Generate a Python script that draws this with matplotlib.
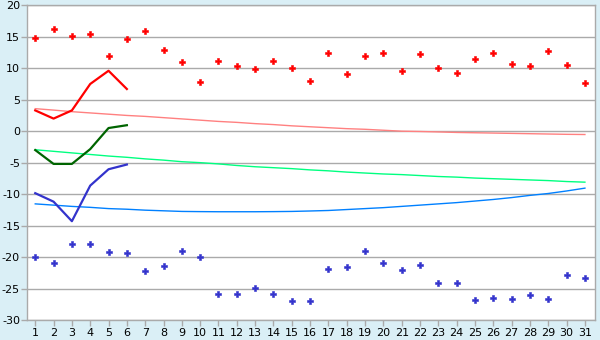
import matplotlib
matplotlib.use("Agg")
import matplotlib.pyplot as plt
import numpy as np

plt.rcParams["axes.unicode_minus"] = False

days = list(range(1, 32))

red_points = [14.85, 16.25, 15.05, 15.45, 12.0, 14.7, 15.95, 12.95, 10.95, 7.85,
              11.1, 10.3, 9.85, 11.1, 10.0, 7.95, 12.5, 9.05, 12.0, 12.35,
              9.5, 12.2, 10.0, 9.2, 11.4, 12.5, 10.6, 10.3, 12.8, 10.45, 7.65]
blue_points = [-20.0, -20.95, -17.95, -17.95, -19.2, -19.35, -22.2, -21.4, -19.05, -20.0,
               -25.9, -25.9, -24.95, -25.9, -27.0, -27.0, -21.9, -21.6, -19.05, -20.95,
               -22.05, -21.25, -24.1, -24.1, -26.8, -26.5, -26.7, -26.05, -26.7, -22.9, -23.3]

line_days = [1, 2, 3, 4, 5, 6]
red_line = [3.3, 2.0, 3.3, 7.5, 9.6, 6.7]
green_line = [-3.0, -5.2, -5.2, -2.85, 0.5, 0.95]
blue_line = [-9.85, -11.2, -14.3, -8.65, -6.05, -5.3]

pink_trend = [3.58, 3.35, 3.1, 2.9, 2.7, 2.5, 2.35, 2.15, 1.95, 1.75,
              1.55, 1.4, 1.2, 1.05, 0.85, 0.7, 0.55, 0.4, 0.3, 0.15,
              0.0, -0.05, -0.12, -0.2, -0.25, -0.3, -0.35, -0.4, -0.45, -0.5, -0.53]
green_trend = [-2.95, -3.2, -3.45, -3.7, -3.95, -4.15, -4.4, -4.6, -4.85, -5.0,
               -5.2, -5.45, -5.65, -5.8, -5.95, -6.15, -6.3, -6.5, -6.65, -6.8,
               -6.9, -7.05, -7.2, -7.3, -7.45, -7.55, -7.65, -7.75, -7.85, -8.0, -8.1]
blue_trend = [-11.55, -11.75, -11.95, -12.1, -12.3, -12.4, -12.55, -12.65, -12.75, -12.78,
              -12.8, -12.8, -12.8, -12.78, -12.75, -12.68, -12.6, -12.45, -12.3, -12.15,
              -11.95, -11.75, -11.55, -11.35, -11.1, -10.85, -10.55, -10.2, -9.9, -9.5, -9.05]

y_ticks = [-30, -25, -20, -15, -10, -5, 0, 5, 10, 15, 20]

bg = "#daeff6"
grid_c = "#aaaaaa"

fig = plt.figure(figsize=(6, 3.4), dpi=100, facecolor=bg)
ax = fig.add_axes([27/600, 1-320/340, (595-27)/600, (320-5.3)/340])
ax.set_facecolor("white")

ax.set_xlim(0.55, 31.55)
ax.set_ylim(-30, 20)
ax.set_yticks(y_ticks)
ax.set_xticks(days)
ax.yaxis.grid(True, color=grid_c, linewidth=1.0)
ax.set_axisbelow(True)

for s in ax.spines.values():
    s.set_color(grid_c)
    s.set_linewidth(1.0)

ax.tick_params(axis="both", colors=grid_c, labelcolor="black", labelsize=8, length=4, width=1, direction="out")
ax.tick_params(axis="y", pad=1)
ax.tick_params(axis="x", pad=2)

ax.plot(days, pink_trend, color="#ff8080", linewidth=1.0)
ax.plot(days, green_trend, color="#00ff80", linewidth=1.0)
ax.plot(days, blue_trend, color="#0080ff", linewidth=1.0)

ax.plot(line_days, red_line, color="#ff0000", linewidth=1.6)
ax.plot(line_days, green_line, color="#006400", linewidth=1.6)
ax.plot(line_days, blue_line, color="#3333cc", linewidth=1.6)

ax.plot(days, red_points, linestyle="none", marker="P", markersize=4.3, color="#ff0000",
        markeredgewidth=0.4, markeredgecolor="#ff0000")
ax.plot(days, blue_points, linestyle="none", marker="P", markersize=4.3, color="#3333cc",
        markeredgewidth=0.4, markeredgecolor="#3333cc")

fig.savefig("out.png", dpi=100, facecolor=bg)
